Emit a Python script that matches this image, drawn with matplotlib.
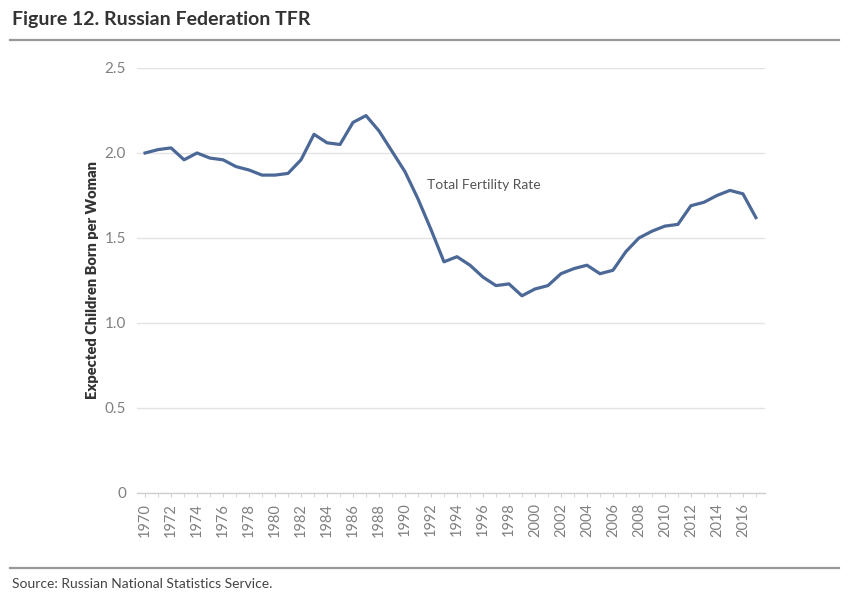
import matplotlib
matplotlib.use("Agg")
import matplotlib.pyplot as plt
from matplotlib.lines import Line2D

years = list(range(1970, 2018))
tfr = [2.00, 2.02, 2.03, 1.96, 2.00, 1.97, 1.96, 1.92, 1.90, 1.87,
       1.87, 1.88, 1.96, 2.11, 2.06, 2.05, 2.18, 2.22, 2.13, 2.01,
       1.89, 1.73, 1.55, 1.36, 1.39, 1.34, 1.27, 1.22, 1.23, 1.16,
       1.20, 1.22, 1.29, 1.32, 1.34, 1.29, 1.31, 1.42, 1.50, 1.54,
       1.57, 1.58, 1.69, 1.71, 1.75, 1.78, 1.76, 1.62]
xtick_years = list(range(1970, 2017, 2))
ytick_vals = [0, 0.5, 1.0, 1.5, 2.0, 2.5]
ytick_labels = ["0", "0.5", "1.0", "1.5", "2.0", "2.5"]

W, H = 852, 597
fig = plt.figure(figsize=(W / 100, H / 100), dpi=100)
fig.patch.set_facecolor("white")

ax = fig.add_axes([137 / W, 1 - 493 / H, (765 - 137) / W, (493 - 68) / H])
ax.plot(years, tfr, color="#4b6897", lw=2.3, solid_joinstyle="round", zorder=3)

ax.set_xlim(1969.38, 2017.7)
ax.set_ylim(0, 2.5)
ax.set_yticks(ytick_vals)
ax.set_yticklabels(ytick_labels)
ax.set_xticks(xtick_years)
ax.set_xticklabels([str(y) for y in xtick_years], rotation=90)
ax.set_xticks(years, minor=True)

for s in ["top", "right", "left"]:
    ax.spines[s].set_visible(False)
ax.spines["bottom"].set_color("#d0d0d0")
ax.spines["bottom"].set_linewidth(1.0)

ax.grid(axis="y", color="#e3e3e3", lw=1.0, zorder=0)
ax.set_axisbelow(True)

ax.tick_params(axis="y", length=0, pad=8, labelsize=11, labelcolor="#808080")
ax.tick_params(axis="x", which="both", length=3, color="#d0d0d0", pad=4,
               labelsize=10.5, labelcolor="#808080")
for lab in ax.get_xticklabels() + ax.get_yticklabels():
    lab.set_fontfamily("Lato")

ax.set_ylabel("Expected Children Born per Woman", fontsize=10.5, fontweight="heavy",
              color="#333333", family="Lato", labelpad=4)

ax.text(1991.7, 1.81, "Total Fertility Rate", fontsize=10, color="#555555",
        family="Lato", va="center", ha="left")

fig.text(12 / W, 1 - 20 / H, "Figure 12. Russian Federation TFR", fontsize=14,
         fontweight="bold", color="#333333", family="Lato", va="center", ha="left")
fig.add_artist(Line2D([10 / W, 839 / W], [1 - 40 / H, 1 - 40 / H],
                      color="#999999", lw=1.6, transform=fig.transFigure))
fig.add_artist(Line2D([10 / W, 839 / W], [1 - 568 / H, 1 - 568 / H],
                      color="#999999", lw=1.6, transform=fig.transFigure))
fig.text(12 / W, 1 - 584 / H, "Source: Russian National Statistics Service.",
         fontsize=10, color="#444444", family="Lato", va="center", ha="left")

fig.savefig("out.png", dpi=100, facecolor="white")
